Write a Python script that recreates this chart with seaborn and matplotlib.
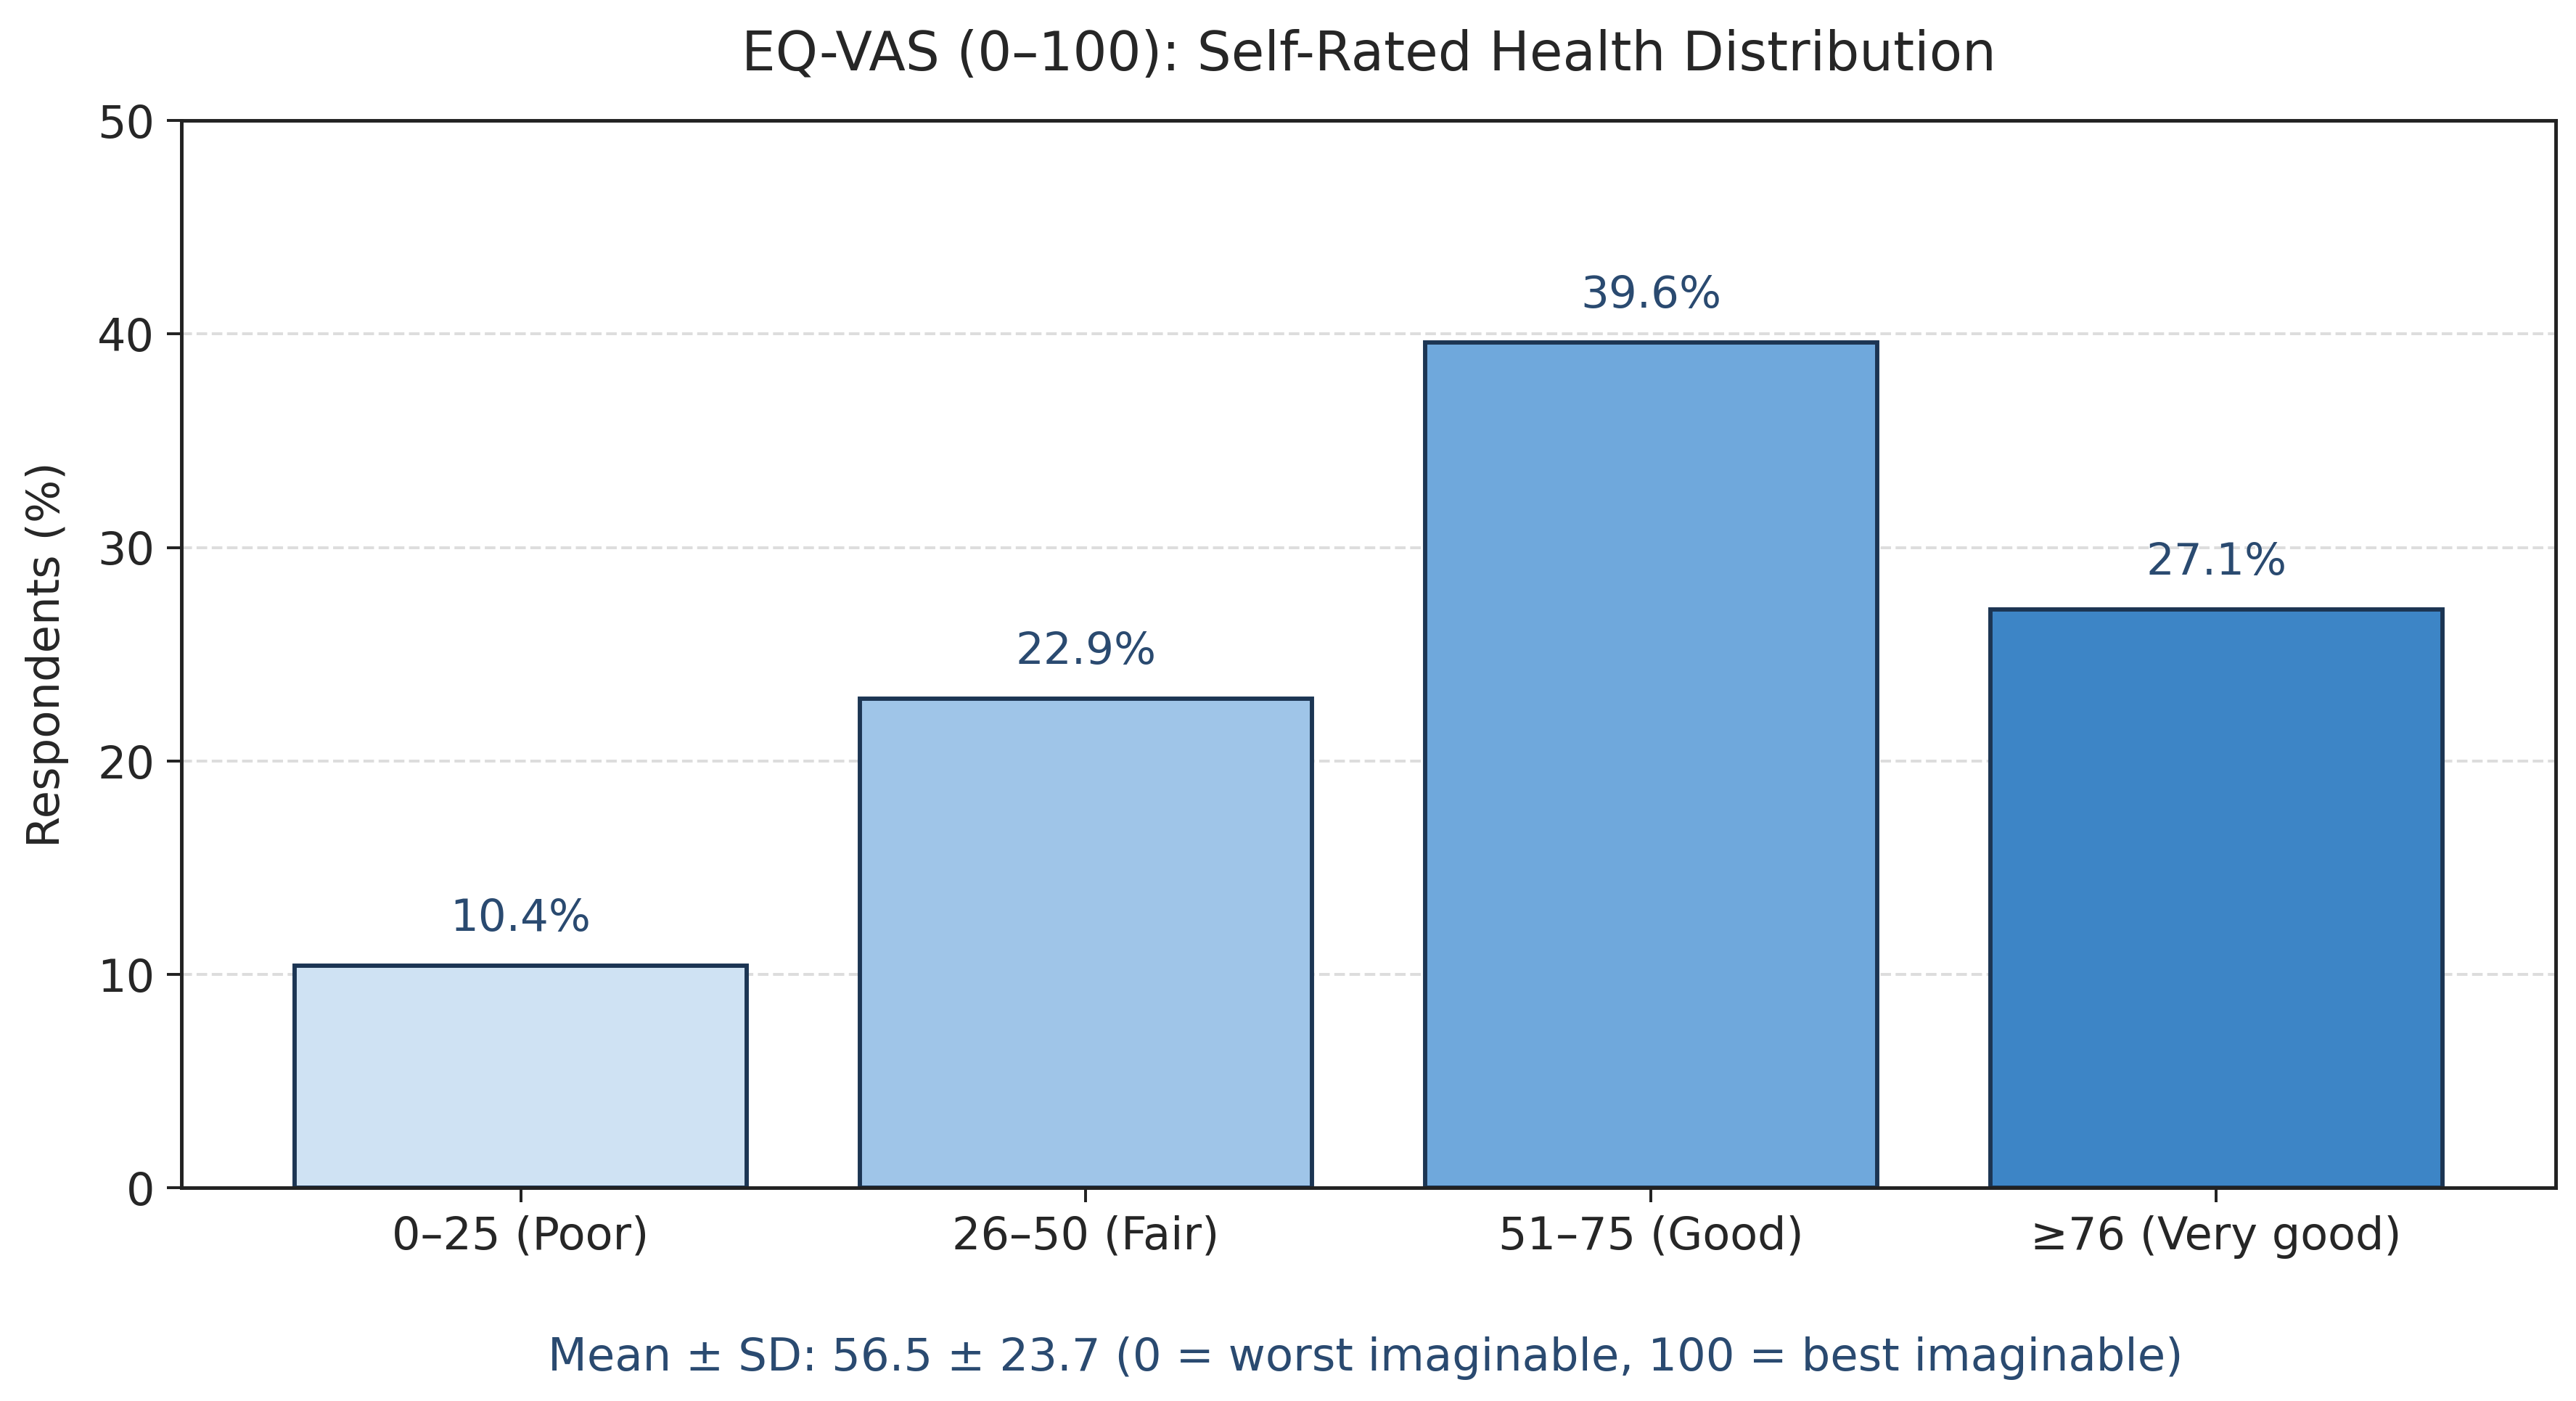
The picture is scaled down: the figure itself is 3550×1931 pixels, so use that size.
import pandas as pd
import matplotlib.pyplot as plt
import seaborn as sns

# Daten
categories = ["0–25 (Poor)", "26–50 (Fair)", "51–75 (Good)", "≥76 (Very good)"]
percent = [10.4, 22.9, 39.6, 27.1]
bar_colors = ["#cfe2f3", "#9fc5e8", "#6fa8dc", "#3d85c6"]
title = "EQ-VAS (0–100): Self-Rated Health Distribution"
footnote = "Mean ± SD: 56.5 ± 23.7 (0 = worst imaginable, 100 = best imaginable)"

df = pd.DataFrame({"category": categories, "percent": percent})

sns.set_style("white")
plt.rcParams["font.family"] = ["DejaVu Sans"]

fig, ax = plt.subplots(figsize=(10, 5.44), dpi=355)
sns.barplot(data=df, x="category", y="percent", hue="category",
            palette=bar_colors, width=0.8, edgecolor="#1c3553",
            linewidth=1.2, legend=False, ax=ax, saturation=1)

# Prozentwerte über den Balken
for p, v in zip(ax.patches, percent):
    ax.text(p.get_x() + p.get_width() / 2, v + 1.2, f"{v:.1f}%",
            ha="center", va="bottom", fontsize=12.4, color="#2a4a70")

ax.set_ylim(0, 50)
ax.set_xlim(-0.6, 3.6)
ax.set_yticks([0, 10, 20, 30, 40, 50])
ax.yaxis.grid(True, linestyle="--", color="#dddddd", linewidth=0.8)
ax.set_axisbelow(True)
for s in ax.spines.values():
    s.set_visible(True)
    s.set_color("#222222")
    s.set_linewidth(1.0)
ax.tick_params(axis="both", labelsize=12.6, length=4, color="#222222", left=True, bottom=True)
ax.set_xlabel("")
ax.set_ylabel("Respondents (%)", fontsize=12.7, labelpad=8)
ax.set_title(title, fontsize=15, pad=14)

fig.text(0.53, 0.015, footnote, ha="center", va="bottom", fontsize=12.7, color="#2a4a70")
plt.subplots_adjust(left=0.0705, right=0.992, top=0.914, bottom=0.152)
plt.savefig("out.png")
